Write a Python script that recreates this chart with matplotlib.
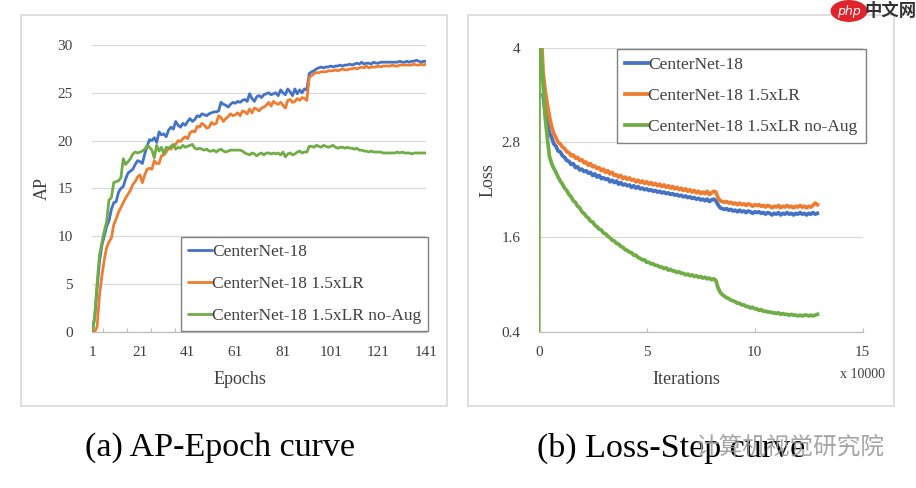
import numpy as np
import matplotlib
matplotlib.use('Agg')
import matplotlib.pyplot as plt
from matplotlib.patches import Rectangle

plt.rcParams['font.family'] = ['Liberation Serif', 'Noto Sans CJK SC', 'DejaVu Sans']

# ---------------- data: AP vs epoch ----------------
epochs = list(range(1, 142))
ap_base = [
    0.0, 1.5, 4.5, 7.3, 9.0, 10.0, 11.0, 11.6, 12.8, 13.5,
    13.6, 14.6, 15.0, 15.2, 16.0, 16.6, 16.8, 17.0, 17.5, 17.9,
    17.8, 17.6, 18.6, 19.4, 20.1, 20.0, 20.3, 19.8, 20.9, 20.6,
    20.7, 20.4, 21.1, 21.4, 21.2, 22.0, 21.6, 21.4, 21.8, 21.6,
    22.0, 22.3, 22.0, 22.2, 22.6, 22.5, 22.8, 22.7, 22.6, 22.8,
    22.9, 23.0, 23.0, 23.1, 24.0, 23.8, 23.7, 23.5, 23.8, 24.0,
    23.9, 24.1, 24.0, 24.2, 24.3, 24.1, 24.9, 24.4, 24.1, 24.6,
    24.7, 24.5, 24.8, 24.9, 25.0, 24.8, 24.9, 25.0, 24.7, 25.3,
    25.0, 24.8, 25.4, 25.1, 24.7, 25.4, 24.9, 25.3, 25.0, 25.4,
    25.3, 27.0, 27.2, 27.3, 27.5, 27.6, 27.7, 27.6, 27.7, 27.7,
    27.8, 27.7, 27.8, 27.8, 27.9, 27.8, 27.9, 27.9, 28.0, 27.9,
    28.0, 28.1, 28.0, 28.2, 28.0, 28.1, 28.1, 28.0, 28.2, 28.1,
    28.1, 28.2, 28.2, 28.2, 28.2, 28.2, 28.2, 28.2, 28.2, 28.3,
    28.2, 28.2, 28.3, 28.2, 28.3, 28.3, 28.4, 28.3, 28.2, 28.3,
    28.3]
ap_lr = [
    0.0, 0.0, 0.5, 3.8, 5.8, 7.5, 8.8, 9.4, 9.8, 11.2,
    11.8, 12.5, 13.0, 13.5, 14.0, 14.4, 14.8, 15.4, 15.7, 16.2,
    16.4, 15.6, 16.4, 17.0, 17.1, 17.0, 17.9, 17.6, 17.6, 18.4,
    18.5, 18.8, 19.2, 19.1, 19.5, 19.6, 20.0, 19.9, 20.2, 20.4,
    20.2, 20.8, 21.0, 20.9, 21.5, 21.4, 21.8, 21.6, 21.3, 21.4,
    21.9, 21.7, 21.8, 22.6, 22.4, 22.0, 22.3, 22.5, 22.8, 22.6,
    22.7, 22.9, 22.6, 23.1, 23.0, 22.8, 23.3, 22.9, 23.4, 23.3,
    23.1, 23.4, 23.5, 23.7, 24.0, 23.6, 24.1, 23.9, 23.8, 24.0,
    23.7, 23.4, 24.2, 24.3, 24.0, 24.1, 24.4, 24.2, 24.5, 24.4,
    24.2, 26.6, 26.8, 27.0, 27.1, 27.1, 27.2, 27.2, 27.2, 27.3,
    27.3, 27.3, 27.4, 27.3, 27.4, 27.5, 27.4, 27.4, 27.5, 27.5,
    27.6, 27.5, 27.6, 27.7, 27.6, 27.8, 27.6, 27.7, 27.7, 27.7,
    27.8, 27.7, 27.8, 27.8, 27.8, 27.8, 27.9, 27.8, 27.8, 27.9,
    27.9, 27.9, 27.9, 27.9, 27.9, 28.0, 27.9, 27.9, 28.0, 27.9,
    28.0]
ap_noaug = [
    0.0, 1.5, 5.0, 8.0, 9.3, 10.5, 11.5, 13.8, 14.0, 15.6,
    15.7, 15.8, 16.1, 18.1, 17.5, 17.8, 18.1, 18.6, 18.8, 18.7,
    18.8, 18.9, 19.1, 19.5, 19.3, 19.0, 18.2, 19.5, 18.9, 19.3,
    18.6, 19.3, 19.2, 19.4, 19.6, 19.1, 19.3, 19.2, 19.5, 19.3,
    19.4, 19.5, 19.6, 19.2, 19.1, 19.2, 19.1, 19.0, 19.1, 18.9,
    18.9, 19.0, 18.8, 19.0, 19.1, 18.9, 18.8, 18.9, 19.0, 19.0,
    19.0, 19.0, 19.0, 18.9, 18.7, 18.6, 18.5, 18.7, 18.6, 18.4,
    18.6, 18.7, 18.5, 18.7, 18.7, 18.6, 18.7, 18.6, 18.7, 18.5,
    18.8, 18.3, 18.6, 18.7, 18.5, 18.6, 18.8, 18.9, 18.7, 18.8,
    18.8, 19.4, 19.4, 19.3, 19.5, 19.4, 19.3, 19.5, 19.4, 19.3,
    19.4, 19.5, 19.3, 19.2, 19.3, 19.3, 19.2, 19.3, 19.2, 19.2,
    19.1, 19.2, 19.0, 19.0, 18.9, 18.9, 18.8, 18.9, 18.8, 18.8,
    18.8, 18.8, 18.7, 18.7, 18.7, 18.7, 18.7, 18.7, 18.8, 18.7,
    18.8, 18.7, 18.7, 18.7, 18.6, 18.7, 18.7, 18.7, 18.7, 18.7,
    18.7]

# ---------------- data: loss vs iteration (x 10000) ----------------
iters = [0.0, 0.02, 0.1] + [round(0.2 + 0.1 * i, 1) for i in range(128)]
loss_base = [np.nan, np.nan, np.nan,
    3.40, 3.18, 3.05, 2.92, 2.86, 2.78, 2.75, 2.69, 2.68, 2.63,
    2.61, 2.57, 2.56, 2.52, 2.53, 2.48, 2.49, 2.45, 2.46, 2.43,
    2.44, 2.41, 2.42, 2.38, 2.40, 2.36, 2.38, 2.34, 2.35, 2.33,
    2.34, 2.30, 2.32, 2.29, 2.31, 2.27, 2.29, 2.26, 2.27, 2.25,
    2.26, 2.23, 2.25, 2.22, 2.24, 2.21, 2.22, 2.20, 2.21, 2.19,
    2.20, 2.18, 2.19, 2.17, 2.18, 2.16, 2.17, 2.15, 2.16, 2.14,
    2.15, 2.13, 2.14, 2.12, 2.13, 2.11, 2.12, 2.10, 2.11, 2.09,
    2.10, 2.08, 2.09, 2.07, 2.08, 2.06, 2.08, 2.05, 2.07, 2.08,
    2.06, 2.01, 1.97, 1.96, 1.95, 1.96, 1.94, 1.95, 1.93, 1.94,
    1.92, 1.94, 1.92, 1.93, 1.91, 1.93, 1.92, 1.90, 1.92, 1.91,
    1.92, 1.90, 1.91, 1.89, 1.91, 1.90, 1.88, 1.90, 1.89, 1.91,
    1.88, 1.90, 1.89, 1.91, 1.89, 1.90, 1.88, 1.90, 1.89, 1.91,
    1.89, 1.90, 1.88, 1.90, 1.89, 1.91, 1.89, 1.90]
loss_lr = [np.nan, np.nan, 4.30,
    3.70, 3.45, 3.28, 3.12, 3.00, 2.91, 2.86, 2.80, 2.78, 2.74,
    2.72, 2.68, 2.67, 2.63, 2.64, 2.60, 2.61, 2.57, 2.58, 2.54,
    2.55, 2.51, 2.53, 2.49, 2.50, 2.47, 2.48, 2.44, 2.46, 2.42,
    2.44, 2.40, 2.42, 2.38, 2.39, 2.36, 2.38, 2.34, 2.36, 2.33,
    2.35, 2.32, 2.33, 2.30, 2.32, 2.29, 2.31, 2.28, 2.30, 2.27,
    2.29, 2.26, 2.28, 2.25, 2.27, 2.24, 2.26, 2.23, 2.25, 2.22,
    2.24, 2.21, 2.23, 2.20, 2.22, 2.19, 2.21, 2.18, 2.20, 2.17,
    2.19, 2.16, 2.18, 2.15, 2.17, 2.15, 2.18, 2.14, 2.16, 2.18,
    2.17, 2.10, 2.06, 2.05, 2.04, 2.05, 2.03, 2.04, 2.02, 2.03,
    2.01, 2.03, 2.01, 2.02, 2.00, 2.02, 2.01, 1.99, 2.01, 2.00,
    2.01, 1.99, 2.00, 1.98, 2.00, 1.99, 1.97, 1.99, 1.98, 2.00,
    1.97, 1.99, 1.98, 2.00, 1.98, 1.99, 1.97, 1.99, 1.98, 2.00,
    1.98, 1.99, 1.97, 1.99, 1.98, 2.00, 2.03, 2.01]
loss_noaug = [0.0, 4.60, 3.97,
    3.55, 3.12, 2.85, 2.62, 2.53, 2.47, 2.42, 2.36, 2.31, 2.27,
    2.22, 2.19, 2.14, 2.11, 2.06, 2.04, 1.99, 1.97, 1.92, 1.90,
    1.86, 1.84, 1.80, 1.79, 1.75, 1.73, 1.70, 1.69, 1.65, 1.64,
    1.61, 1.59, 1.56, 1.55, 1.52, 1.51, 1.48, 1.47, 1.44, 1.43,
    1.41, 1.40, 1.37, 1.37, 1.34, 1.33, 1.31, 1.31, 1.28, 1.28,
    1.26, 1.26, 1.24, 1.24, 1.22, 1.22, 1.20, 1.21, 1.18, 1.19,
    1.17, 1.17, 1.15, 1.16, 1.14, 1.14, 1.12, 1.13, 1.11, 1.12,
    1.10, 1.11, 1.09, 1.10, 1.08, 1.09, 1.07, 1.08, 1.06, 1.07,
    1.05, 0.96, 0.90, 0.87, 0.85, 0.83, 0.82, 0.80, 0.79, 0.78,
    0.76, 0.76, 0.74, 0.74, 0.72, 0.72, 0.70, 0.71, 0.69, 0.69,
    0.67, 0.68, 0.66, 0.66, 0.65, 0.65, 0.64, 0.64, 0.63, 0.64,
    0.62, 0.63, 0.62, 0.62, 0.61, 0.62, 0.61, 0.61, 0.60, 0.61,
    0.60, 0.61, 0.61, 0.60, 0.61, 0.60, 0.61, 0.62]

series_names = ['CenterNet-18', 'CenterNet-18 1.5xLR', 'CenterNet-18 1.5xLR no-Aug']
colors = ['#4472C4', '#ED7D31', '#70AD47']
ap_xticks = list(range(1, 142, 20))
ap_yticks = list(range(0, 31, 5))
loss_xticks = [0, 5, 10, 15]
loss_yticks = [0.4, 1.6, 2.8, 4.0]
loss_yticklabels = ['0.4', '1.6', '2.8', '4']

TXT = '#404040'
GRID = '#d9d9d9'
AXC = '#bfbfbf'
TICK_FS = 11

fig = plt.figure(figsize=(9.16, 4.88), dpi=100)
fig.patch.set_facecolor('white')

# panel frames
for x0 in (21 / 916, 468 / 916):
    fig.add_artist(Rectangle((x0, 1 - 406 / 488), 426 / 916, 391 / 488,
                             transform=fig.transFigure, fill=False,
                             edgecolor='#d9d9d9', lw=1.2))

# ---------------- left: AP-Epoch ----------------
ax1 = fig.add_axes([92.3 / 916, 1 - 331.7 / 488, 333.7 / 916, 286.7 / 488])
handles = []
for ys, c, n in zip([ap_base, ap_lr, ap_noaug], colors, series_names):
    h, = ax1.plot(epochs, ys, color=c, lw=2.0, label=n,
                  solid_joinstyle='round', solid_capstyle='round', zorder=3)
    handles.append(h)
ax1.set_xlim(1, 141)
ax1.set_ylim(0, 30)
ax1.set_xticks(ap_xticks)
ax1.set_yticks(ap_yticks)
ax1.set_xticks(np.arange(5.6, 141, 10), minor=True)
ax1.tick_params(axis='both', which='major', length=0, labelsize=TICK_FS, labelcolor=TXT)
ax1.tick_params(axis='x', which='major', pad=10.5)
ax1.tick_params(axis='y', which='major', pad=14)
ax1.tick_params(axis='x', which='minor', direction='in', length=3, width=0.8, color=AXC)
ax1.yaxis.grid(True, color=GRID, lw=0.9)
ax1.set_axisbelow(True)
for s in ('top', 'right', 'left'):
    ax1.spines[s].set_visible(False)
ax1.spines['bottom'].set_color(AXC)
ax1.spines['bottom'].set_linewidth(0.9)
ax1.set_xlabel('Epochs', fontsize=13, color=TXT)
ax1.xaxis.set_label_coords(0.443, -0.168)
ax1.xaxis.label.set_va('center')
ax1.set_ylabel('AP', fontsize=13, color=TXT)
ax1.yaxis.set_label_coords(-0.151, 0.501)
ax1.yaxis.label.set_va('center')

leg1 = ax1.legend(handles=handles, loc='upper left',
                  bbox_to_anchor=((181 - 92.3) / 333.7, (331.7 - 237) / 286.7),
                  borderaxespad=0, frameon=True, fancybox=False, edgecolor='#808080',
                  framealpha=1, fontsize=12.5, handlelength=1.38, handletextpad=0.0,
                  borderpad=0.4, labelspacing=0.9)
leg1.get_frame().set_linewidth(1.0)
for t in leg1.get_texts():
    t.set_color(TXT)

# ---------------- right: Loss-Step ----------------
ax2 = fig.add_axes([538.7 / 916, 1 - 331.7 / 488, 324 / 916, 284 / 488])
handles2 = []
for ys, c, n in zip([loss_base, loss_lr, loss_noaug], colors, series_names):
    h, = ax2.plot(iters, ys, color=c, lw=2.7, label=n,
                  solid_joinstyle='round', zorder=3)
    handles2.append(h)
ax2.set_xlim(0, 15)
ax2.set_ylim(0.4, 4.0)
ax2.set_xticks(loss_xticks)
ax2.set_yticks(loss_yticks)
ax2.set_yticklabels(loss_yticklabels)
ax2.tick_params(axis='both', which='major', labelsize=TICK_FS, labelcolor=TXT)
ax2.tick_params(axis='x', which='major', direction='in', length=3, width=0.8,
                color=AXC, pad=10.5)
ax2.tick_params(axis='y', which='major', length=0, pad=13)
ax2.yaxis.grid(True, color=GRID, lw=0.9)
ax2.set_axisbelow(True)
for s in ('top', 'right', 'left'):
    ax2.spines[s].set_visible(False)
ax2.spines['bottom'].set_color(AXC)
ax2.spines['bottom'].set_linewidth(0.9)
ax2.set_xlabel('Iterations', fontsize=13, color=TXT)
ax2.xaxis.set_label_coords(0.457, -0.170)
ax2.xaxis.label.set_va('center')
ax2.set_ylabel('Loss', fontsize=13, color=TXT)
ax2.yaxis.set_label_coords(-0.156, 0.534)
ax2.yaxis.label.set_va('center')
ax2.text(0.9994, -0.152, 'x 10000', transform=ax2.transAxes, fontsize=10,
         color=TXT, ha='center', va='center')

leg2 = ax2.legend(handles=handles2, loc='upper left',
                  bbox_to_anchor=((616.7 - 538.7) / 324, (331.7 - 49.3) / 284),
                  borderaxespad=0, frameon=True, fancybox=False, edgecolor='#808080',
                  framealpha=1, fontsize=12.5, handlelength=1.38, handletextpad=0.0,
                  borderpad=0.45, labelspacing=0.85)
leg2.get_frame().set_linewidth(1.0)
for t in leg2.get_texts():
    t.set_color(TXT)

# ---------------- captions ----------------
fig.text(220 / 916, 1 - 448 / 488, '(a) AP-Epoch curve', fontsize=24.5,
         ha='center', va='center', color='black')
fig.text(671.5 / 916, 1 - 448 / 488, '(b) Loss-Step curve', fontsize=24.5,
         ha='center', va='center', color='black')

# watermarks
fig.text(790 / 916, 1 - 447 / 488, '计算机视觉研究院', fontsize=17,
         family=['Noto Sans CJK SC'], ha='center', va='center',
         color='#9a9a9a', alpha=0.9)
fig.text(849 / 916, 1 - 11 / 488, 'php', fontsize=9, style='italic',
         family=['DejaVu Sans'], color='white', ha='center', va='center',
         bbox=dict(boxstyle='ellipse,pad=0.1', fc='#e0242b', ec='none'))
fig.text(891 / 916, 1 - 11 / 488, '中文网', fontsize=12.5, weight='bold',
         family=['Noto Sans CJK SC'], color='#333333', ha='center', va='center')

fig.savefig('out.png', dpi=100)
